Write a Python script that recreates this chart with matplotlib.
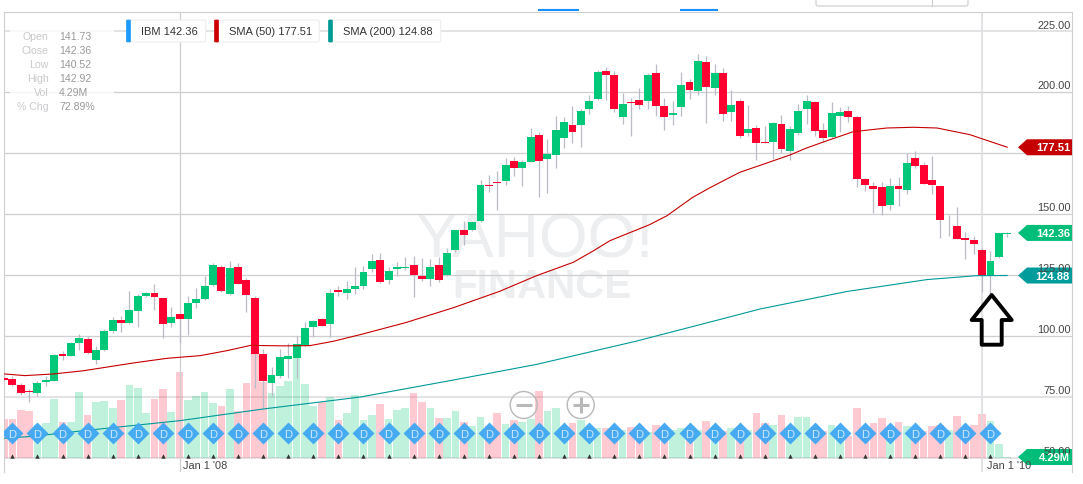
import matplotlib
matplotlib.use("Agg")
import matplotlib.pyplot as plt
from matplotlib.patches import Circle, FancyBboxPatch, Polygon, Rectangle

plt.rcParams["font.family"] = ["Liberation Sans", "DejaVu Sans"]

# candles, one every 8.36 px
opens = [82.7, 82.4, 80.0, 77.5, 76.7, 81.0, 81.7, 92.5, 92.0, 97.2,
         98.8, 90.4, 94.5, 102.1, 106.6, 105.4, 110.5, 116.3, 117.6, 115.5,
         105.5, 109.0, 107.2, 113.7, 115.3, 121.0, 128.4, 117.3, 128.4, 122.9,
         115.5, 92.5, 80.8, 83.8, 90.6, 91.2, 96.1, 103.8, 106.9, 105.1,
         118.8, 117.7, 119.5, 120.7, 127.4, 131.1, 123.2, 127.6, 128.1, 129.3,
         124.7, 123.5, 129.2, 125.1, 135.5, 143.6, 143.6, 147.3, 162.0, 163.3,
         163.7, 171.9, 168.9, 171.6, 182.6, 172.7, 174.5, 181.5, 186.8, 186.7,
         193.2, 197.2, 208.8, 207.0, 190.1, 196.1, 196.8, 196.6, 207.9, 194.5,
         190.8, 194.0, 204.4, 200.6, 212.5, 201.8, 208.0, 192.1, 196.5, 183.5,
         185.3, 179.6, 179.5, 187.1, 175.9, 183.2, 193.1, 196.2, 184.6, 181.6,
         190.5, 192.4, 189.8, 164.4, 161.5, 161.1, 154.0, 161.8, 160.1, 173.1,
         170.2, 164.0, 161.6, 145.1, 145.2, 140.3, 139.3, 135.5, 124.6, 132.4,
         141.73]
closes = [82.0, 80.0, 76.8, 77.2, 80.8, 81.9, 92.3, 92.0, 97.0, 99.2,
          93.0, 94.2, 102.1, 106.5, 105.4, 110.7, 116.6, 117.7, 116.1, 105.1,
          108.0, 107.0, 113.7, 115.1, 120.6, 129.3, 118.4, 127.8, 121.5, 116.9,
          92.7, 81.6, 84.1, 91.4, 92.0, 96.8, 103.2, 106.2, 104.3, 117.9,
          118.0, 119.5, 120.5, 126.2, 130.7, 122.4, 126.9, 128.2, 128.3, 125.2,
          123.5, 128.2, 123.0, 134.0, 143.4, 141.5, 146.7, 162.0, 161.8, 163.0,
          170.4, 168.9, 171.5, 181.7, 171.9, 174.8, 184.5, 187.8, 183.9, 192.5,
          196.5, 208.5, 207.0, 193.0, 195.4, 195.8, 194.9, 207.3, 194.5, 190.1,
          191.5, 202.9, 200.8, 213.0, 202.4, 207.9, 191.2, 194.9, 182.3, 185.0,
          179.1, 179.4, 187.5, 176.7, 185.0, 192.4, 196.4, 184.3, 181.2, 191.6,
          192.1, 189.8, 164.4, 162.2, 160.4, 153.3, 161.8, 160.4, 171.2, 169.7,
          162.6, 162.0, 147.8, 145.2, 140.0, 139.5, 137.7, 124.8, 130.8, 142.2,
          142.36]
highs = [83.5, 83.5, 80.8, 78.3, 81.7, 83.8, 92.6, 94.0, 97.5, 100.9,
         100.2, 95.8, 102.9, 107.7, 108.1, 118.7, 117.3, 118.0, 121.4, 115.8,
         112.1, 109.5, 116.6, 119.8, 124.8, 129.9, 129.2, 130.8, 130.0, 123.7,
         116.6, 94.7, 87.5, 94.7, 97.2, 99.9, 105.7, 106.5, 107.3, 119.4,
         120.7, 122.8, 128.5, 128.7, 133.7, 134.1, 128.2, 130.6, 132.4, 133.0,
         131.9, 131.7, 132.4, 136.0, 143.7, 147.4, 147.4, 164.1, 166.1, 167.6,
         173.1, 173.4, 172.2, 185.3, 183.6, 180.9, 190.2, 189.8, 194.6, 193.0,
         199.0, 209.0, 210.6, 208.7, 199.8, 197.7, 201.8, 208.0, 211.7, 197.7,
         196.4, 208.4, 205.3, 215.8, 214.8, 211.7, 209.9, 200.8, 197.3, 194.9,
         186.7, 186.1, 187.8, 190.8, 186.1, 195.3, 199.0, 196.6, 187.5, 196.2,
         193.9, 194.6, 190.5, 164.9, 163.1, 163.4, 164.9, 165.2, 175.2, 176.1,
         171.3, 173.8, 162.0, 149.7, 152.9, 142.6, 141.2, 136.0, 134.8, 142.5,
         142.92]
lows = [81.5, 79.4, 76.0, 72.8, 75.3, 79.4, 81.5, 90.4, 91.7, 94.5,
        92.5, 88.7, 93.9, 101.3, 101.6, 104.9, 103.6, 115.9, 110.9, 99.4,
        103.9, 97.1, 100.5, 111.7, 115.0, 120.7, 118.0, 117.0, 121.4, 109.8,
        78.7, 70.1, 75.3, 82.7, 82.7, 82.7, 95.8, 99.5, 104.0, 99.5,
        116.3, 115.3, 117.3, 119.4, 126.2, 121.8, 121.4, 124.8, 127.2, 116.0,
        122.8, 120.7, 122.4, 124.6, 134.7, 137.4, 143.3, 147.0, 159.0, 151.8,
        162.0, 165.9, 161.5, 171.3, 157.1, 158.8, 168.9, 177.1, 179.3, 177.4,
        191.0, 196.9, 196.7, 191.9, 187.1, 182.0, 193.1, 193.2, 190.5, 184.7,
        186.8, 190.2, 197.3, 199.1, 187.5, 199.0, 188.4, 188.4, 181.2, 182.3,
        172.4, 179.3, 172.7, 175.2, 172.2, 182.6, 187.1, 182.3, 179.5, 181.2,
        183.6, 188.0, 161.1, 159.7, 150.7, 149.5, 151.7, 153.3, 158.3, 168.9,
        162.3, 158.3, 140.4, 141.2, 139.9, 131.7, 133.7, 118.0, 117.3, 132.1,
        140.52]
volumes = [11.9, 11.9, 14.7, 14.4, 10.2, 10.7, 17.9, 10.9, 11.0, 20.2,
           13.2, 17.1, 17.4, 15.3, 17.8, 22.4, 21.4, 13.8, 18.1, 21.2,
           14.1, 26.2, 17.7, 18.9, 20.2, 16.8, 15.9, 21.1, 14.3, 23.0,
           32.0, 23.2, 19.9, 22.0, 23.6, 30.5, 22.7, 16.0, 17.0, 18.6,
           11.7, 13.8, 19.3, 11.6, 13.1, 16.4, 11.9, 14.7, 15.3, 19.9,
           17.0, 15.2, 12.2, 12.1, 14.4, 10.9, 9.7, 12.6, 9.7, 13.7,
           10.4, 11.6, 11.0, 11.9, 20.6, 14.5, 15.2, 8.9, 10.8, 11.5,
           9.4, 9.2, 9.1, 9.4, 8.7, 9.5, 9.3, 7.9, 10.1, 9.4,
           8.7, 9.2, 8.4, 8.7, 11.3, 9.4, 8.3, 9.2, 8.9, 8.6,
           13.8, 10.6, 10.2, 13.0, 8.9, 12.6, 12.4, 9.4, 8.4, 10.2,
           8.7, 6.6, 15.3, 8.9, 10.6, 12.2, 8.9, 11.0, 9.8, 8.4,
           8.4, 9.8, 10.1, 8.7, 12.7, 8.4, 10.2, 13.3, 11.2, 4.29,
           0.3]

sma50_pos = [0, 2.5, 6, 9.5, 15.5, 19.5, 23.5, 26.6, 29.5, 33.5, 36.6, 39.4, 42.6, 48,
             53.7, 59.3, 63.7, 68.1, 70.5, 72.5, 77.2, 79.3, 82.4, 84.5, 88,
             94, 96, 98.8, 101.6, 105.6, 108.8, 111.6, 115.5, 120]
sma50_val = [84.5, 83.8, 84.5, 85.8, 89.0, 90.9, 92.0, 94.0, 96.2, 96.0, 96.1, 97.9, 100.6, 105.5,
             111.6, 118.4, 124.8, 130.3, 135.0, 139.2, 145.7, 149.4, 157.0, 161.0, 167.2,
             174.3, 177.2, 180.6, 183.9, 185.4, 185.7, 185.4, 182.7, 177.51]
sma200_pos = [0, 3.5, 9.5, 21, 31, 42.6, 53.3, 63.7, 75.7, 85.6, 90.4, 100.8, 110.4, 116.3, 120]
sma200_val = [58.1, 58.9, 61.2, 65.3, 70.1, 75.0, 81.7, 88.4, 98.0, 106.8, 111.1, 118.3, 123.2, 124.8, 124.88]

price_ticks = [225, 200, 175, 150, 125, 100, 75, 50]
price_labels = ["225.00", "200.00", "", "150.00", "125.00", "100.00", "75.00", "50.00"]
date_ticks = [21, 117]
date_labels = ["Jan 1 '08", "Jan 1 '10"]
dividend_pos = list(range(1, 119, 3))

info_names = ["Open", "Close", "Low", "High", "Vol", "% Chg"]
info_values = ["141.73", "142.36", "140.52", "142.92", "4.29M", "72.89%"]

GREEN = "#00c878"
RED = "#ff0030"
TEAL = "#009a98"
DARK_RED = "#c60000"
GRID = "#cfcfd2"

W, H = 1083, 485
fig = plt.figure(figsize=(W / 100, H / 100), dpi=100)
fig.patch.set_facecolor("white")

# watermark goes under the axes
fig.text(535 / W, 1 - 257 / H, "YAHOO!", color="#eceef0", fontsize=45, ha="center", va="baseline", zorder=0)
fig.text(542 / W, 1 - 298 / H, "FINANCE", color="#eceef0", fontsize=29, fontweight="bold",
         ha="center", va="baseline", zorder=0)

# main axes: left 3.5 px, right 1072 px, top 12.5 px, bottom 473 px
ax = fig.add_axes([3.5 / W, 1 - 473 / H, (1072 - 3.5) / W, (473 - 12.5) / H], zorder=1)
ax.patch.set_alpha(0)
ax.set_xlim(-0.06, 127.75)
ax.set_ylim(44.25, 233.2)
ax.set_xticks([])
ax.set_yticks([])
ax.spines["bottom"].set_visible(False)
for side in ["left", "top", "right"]:
    ax.spines[side].set_color(GRID)
    ax.spines[side].set_linewidth(0.8)

for p in price_ticks:
    if p in (225, 75, 50):
        ax.axhline(p, color="#dedee0", lw=1.2, zorder=1)
    else:
        ax.axhline(p, color=GRID, lw=0.9, zorder=1)
ax.axvline(date_ticks[0], color=GRID, lw=0.9, zorder=2.5)
ax.axvline(date_ticks[1], color="#dcdcdf", lw=1.4, zorder=2.5, alpha=0.8)

positions = list(range(len(opens)))
up = [c >= o for o, c in zip(opens, closes)]

# volume shares the axes, 1 unit is 3.27 px which is 1.342 on the price scale
vol_scale = 1.342
vol_heights = [v * vol_scale for v in volumes]
ax.bar(positions, vol_heights, bottom=50, width=0.92,
       color=[GREEN if u else "#ff2d4d" for u in up],
       alpha=0.25, linewidth=0, zorder=2)

ax.vlines(positions, lows, highs, color="#b9bcc6", lw=0.9, zorder=3)
ax.bar(positions, [abs(c - o) for o, c in zip(opens, closes)],
       bottom=[min(o, c) for o, c in zip(opens, closes)], width=0.95,
       color=[GREEN if u else RED for u in up], linewidth=0, zorder=4)

ax.plot(sma200_pos, sma200_val, color=TEAL, lw=0.8, zorder=5)
ax.plot(sma50_pos, sma50_val, color=DARK_RED, lw=0.8, zorder=5)

# dividend markers
ax.scatter(dividend_pos, [50.9] * len(dividend_pos), marker="^", s=10, color="#333333",
           linewidths=0, zorder=6, clip_on=False)
div_y = 50 + (459 - 434) / 2.437
ax.scatter(dividend_pos, [div_y] * len(dividend_pos), marker="D", s=125, color="#3fa7f3",
           alpha=0.95, linewidths=0, zorder=6)
for d in dividend_pos:
    ax.text(d, div_y, "D", color="#cfe8fb", fontsize=8, ha="center", va="center_baseline", zorder=6.5)

# everything else sits on a pixel overlay, y going down like the screenshot
ov = fig.add_axes([0, 0, 1, 1], zorder=10)
ov.set_xlim(0, W)
ov.set_ylim(H, 0)
ov.axis("off")
ov.patch.set_alpha(0)


def price_y(p):
    return 459 - (p - 50) * 2.437


for p, label in zip(price_ticks, price_labels):
    ov.text(1071, price_y(p) - 2, label, color="#444444", fontsize=7.9, ha="right", va="bottom")
ov.text(183.3, 466, date_labels[0], color="#444444", fontsize=7.9, ha="left", va="center")
ov.text(987.3, 466, date_labels[1], color="#444444", fontsize=7.9, ha="left", va="center")

# info block
ov.add_patch(Rectangle((10, 25), 104, 90, color="white", alpha=0.8, linewidth=0))
for k, (name, value) in enumerate(zip(info_names, info_values)):
    y = 37.3 + k * 14
    ov.text(48.7, y, name, color="#c9c9cc", fontsize=7.6, ha="right", va="center")
    ov.text(59, y, value, color="#999999", fontsize=7.6, ha="left", va="center")

# legend chips
chips = [(126, 206.7, "#1e9bff", "IBM 142.36"),
         (214, 320.3, "#cc0000", "SMA (50) 177.51"),
         (328, 441.7, "#009a96", "SMA (200) 124.88")]
for x0, x1, col, label in chips:
    ov.add_patch(FancyBboxPatch((x0 + 1, 21), x1 - x0 - 2, 22, boxstyle="round,pad=0,rounding_size=2",
                                facecolor="white", edgecolor="#eeeeee", linewidth=0.8))
    ov.add_patch(FancyBboxPatch((x0 + 0.5, 21), 4, 22, boxstyle="round,pad=0,rounding_size=1",
                                facecolor=col, edgecolor=col, linewidth=0.5))
    ov.text(x0 + 15.3, 32, label, color="#333333", fontsize=8, ha="left", va="center")


def tag(y, col, label):
    pts = [(1018, y), (1027, y - 8), (1072, y - 8), (1072, y + 8), (1027, y + 8)]
    ov.add_patch(Polygon(pts, closed=True, facecolor=col, edgecolor="none"))
    ov.text(1070, y, label, color="white", fontsize=8, fontweight="bold", ha="right", va="center")


tag(price_y(177.51), "#c40000", "177.51")
tag(price_y(142.36), "#00bd79", "142.36")
tag(price_y(124.88), "#009b9b", "124.88")
tag(458, "#00bd79", "4.29M")

# arrow drawn over the chart by hand
ov.add_patch(Polygon([(991.7, 296), (1011.7, 321), (1001.7, 321), (1001.7, 345.7),
                      (981.7, 345.7), (981.7, 321), (971.7, 321)],
                     closed=True, fill=False, edgecolor="black", linewidth=2.8, joinstyle="round"))

# zoom buttons
for cx in [523.7, 580.7]:
    ov.add_patch(Circle((cx, 406), 13.5, fill=False, edgecolor="#b8b8b8", linewidth=1.0))
    ov.plot([cx - 8, cx + 8], [406, 406], color="#b8b8b8", lw=2.2, solid_capstyle="butt")
ov.plot([580.7, 580.7], [398, 414], color="#b8b8b8", lw=2.2, solid_capstyle="butt")

# bits of the page around the chart
ov.plot([538, 579], [10.5, 10.5], color="#188fff", lw=1.5, solid_capstyle="butt")
ov.plot([680, 718], [10.5, 10.5], color="#188fff", lw=1.5, solid_capstyle="butt")
ov.add_patch(FancyBboxPatch((816, -10), 152, 17, boxstyle="round,pad=0,rounding_size=2",
                            facecolor="white", edgecolor="#cccccc", linewidth=0.8))
ov.plot([931.7, 931.7], [0, 7], color="#cccccc", lw=0.8)

fig.savefig("out.png", dpi=100)
plt.close(fig)
